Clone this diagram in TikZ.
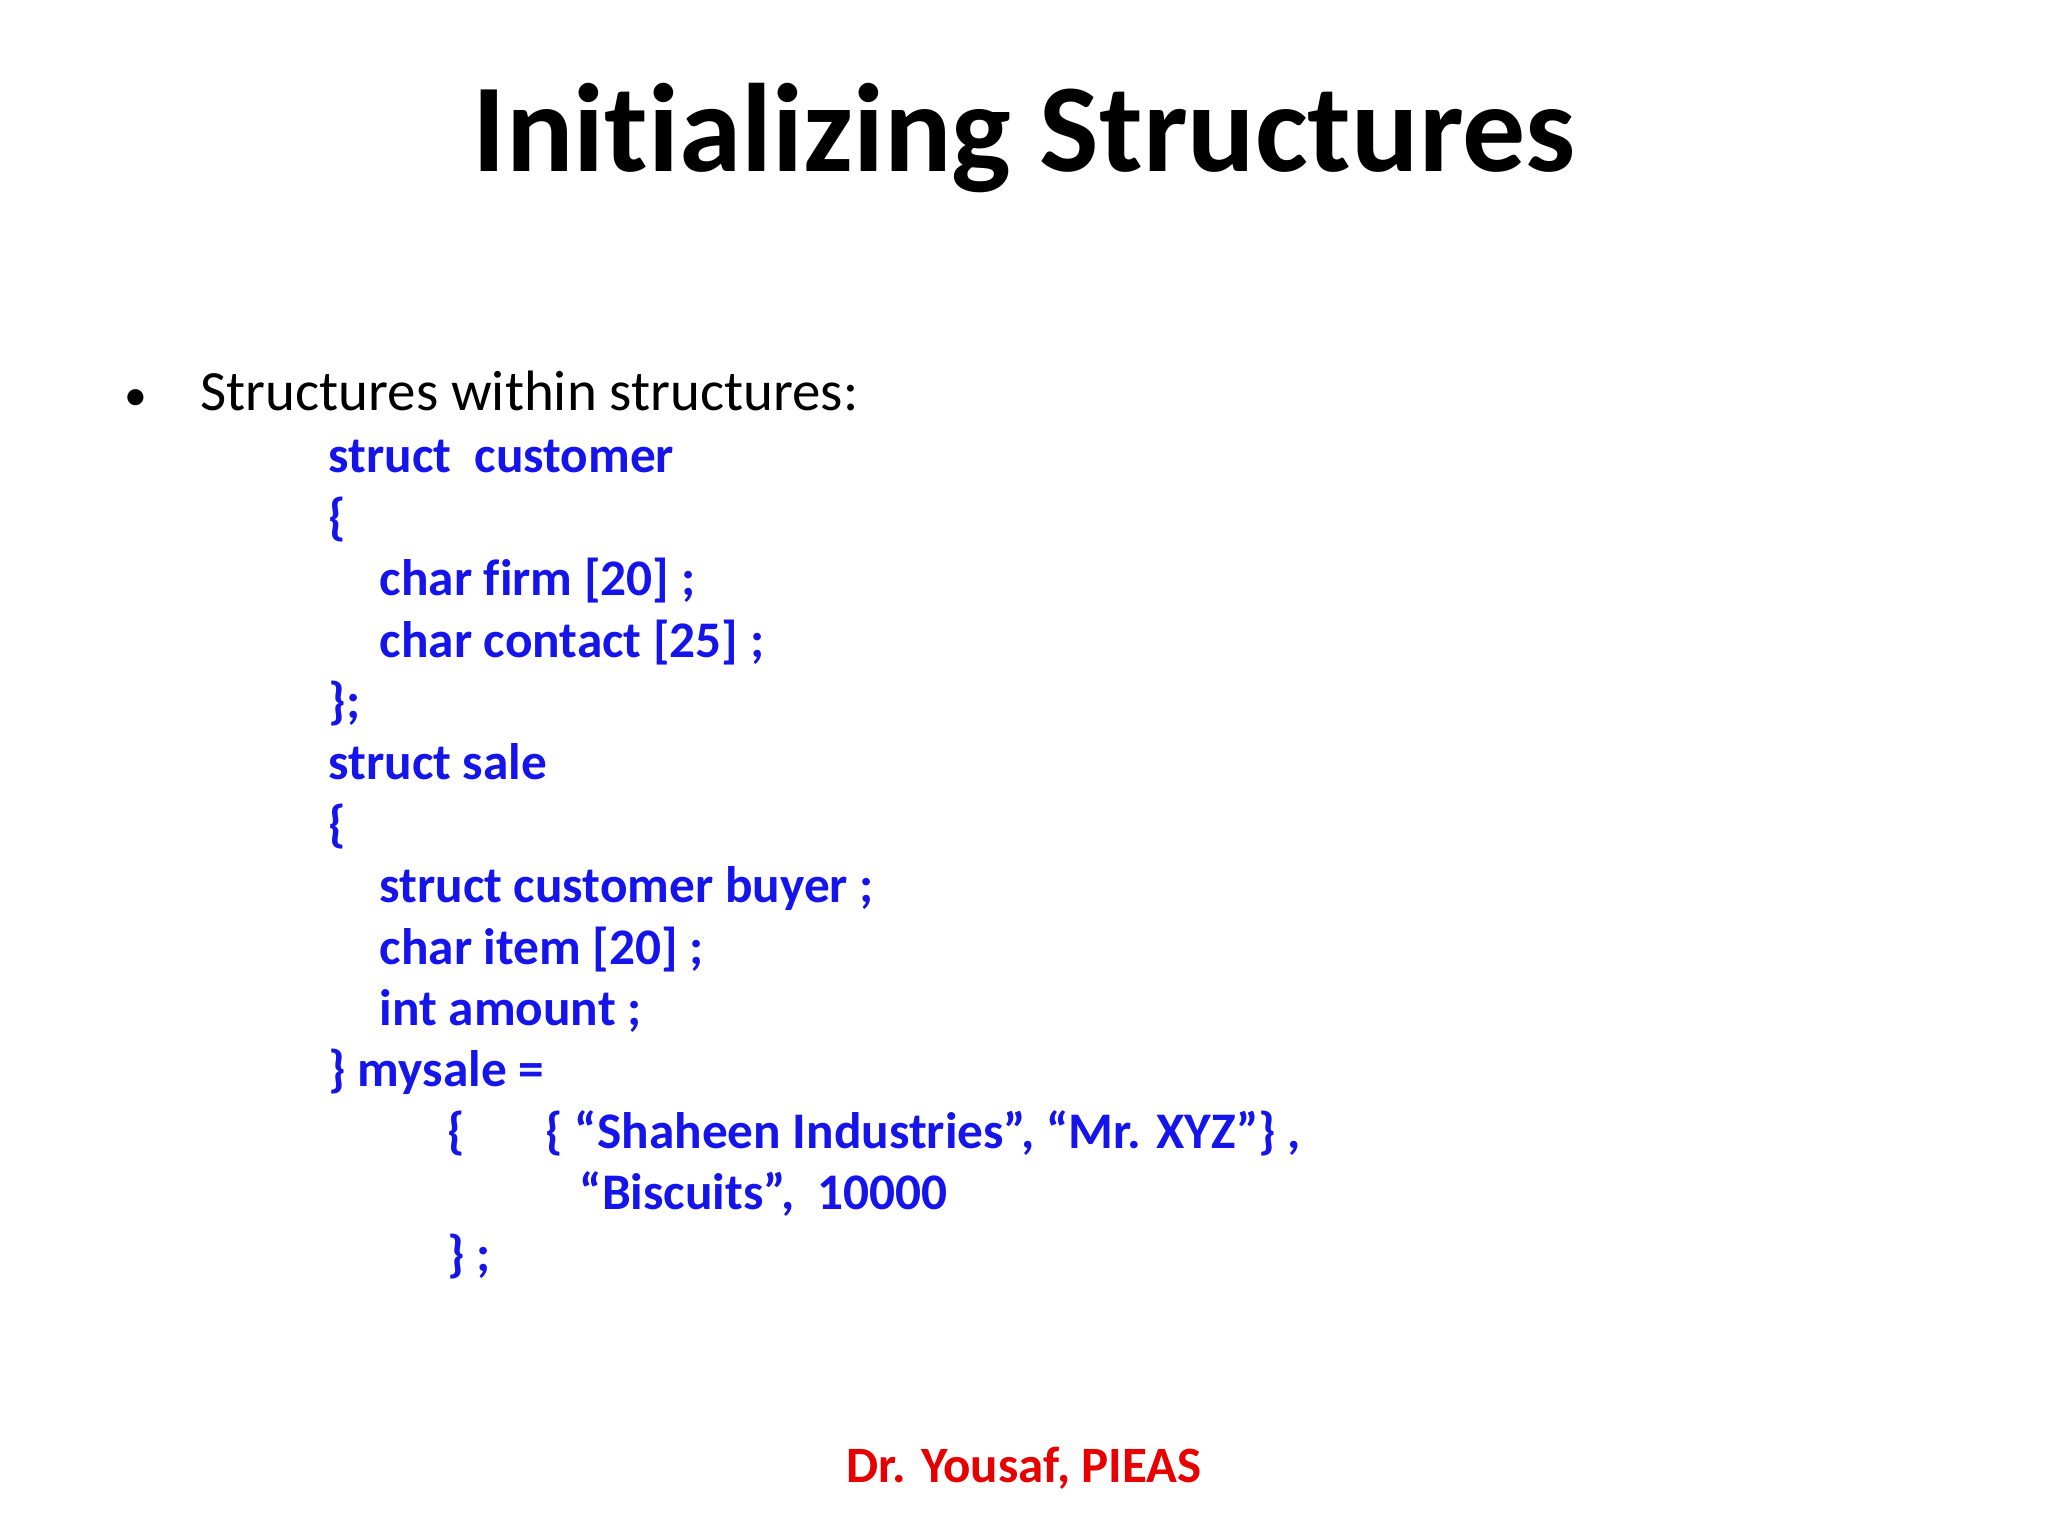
\documentclass[tikz,border=0pt]{standalone}
\usepackage{fontspec}
\setmainfont[Ligatures={NoCommon}]{Carlito}
\definecolor{codeblue}{RGB}{20,20,235}
\definecolor{footred}{RGB}{230,0,0}
\newcommand{\sq}{\char"22\relax}
\begin{document}
\begin{tikzpicture}[
  code/.style={anchor=base west,inner sep=0pt,text=codeblue,font=\fontsize{14.6}{18}\selectfont\bfseries}]
\useasboundingbox[fill=white] (0,0) rectangle (20.48,-15.36);
\node[anchor=base,inner sep=0pt,font=\fontsize{35.8}{42}\selectfont\bfseries] (title) at (10.24,-1.72) {Initializing Structures};
\node[anchor=base west,inner sep=0pt,font=\fontsize{13}{16}\selectfont] (bul) at (1.24,-4.11) {•};
\node[anchor=base west,inner sep=0pt,font=\fontsize{16.2}{20}\selectfont] (intro) at (2.0,-4.11) {Structures within structures:};
\def\dy{0.614}
\node[code] (l1) at (3.28,-4.73) {struct\ \ customer};
\node[code] (l2) at (3.28,{-4.73-1*\dy}) {\{};
\node[code] (l3) at (3.79,{-4.73-2*\dy}) {char firm [20] ;};
\node[code] (l4) at (3.79,{-4.73-3*\dy}) {char contact [25] ;};
\node[code] (l5) at (3.28,{-4.73-4*\dy}) {\};};
\node[code] (l6) at (3.28,{-4.73-5*\dy}) {struct sale};
\node[code] (l7) at (3.28,{-4.73-6*\dy}) {\{};
\node[code] (l8) at (3.79,{-4.73-7*\dy}) {struct customer buyer ;};
\node[code] (l9) at (3.79,{-4.73-8*\dy}) {char item [20] ;};
\node[code] (l10) at (3.79,{-4.73-9*\dy}) {int amount ;};
\node[code] (l11) at (3.28,{-4.73-10*\dy}) {\} mysale =};
\node[code] (l12a) at (4.47,{-4.73-11*\dy}) {\{};
\node[code] (l12b) at (5.45,{-4.73-11*\dy}) {\{ “Shaheen Industries\sq, “Mr. XYZ\sq\} ,};
\node[code] (l13) at (5.79,{-4.73-12*\dy}) {“Biscuits\sq,\ \ 10000};
\node[code] (l14) at (4.47,{-4.73-13*\dy}) {\} ;};
\node[anchor=base,inner sep=0pt,text=footred,font=\fontsize{14.5}{18}\selectfont\bfseries] (foot) at (10.24,-14.82) {Dr. Yousaf, PIEAS};
\end{tikzpicture}
\end{document}
